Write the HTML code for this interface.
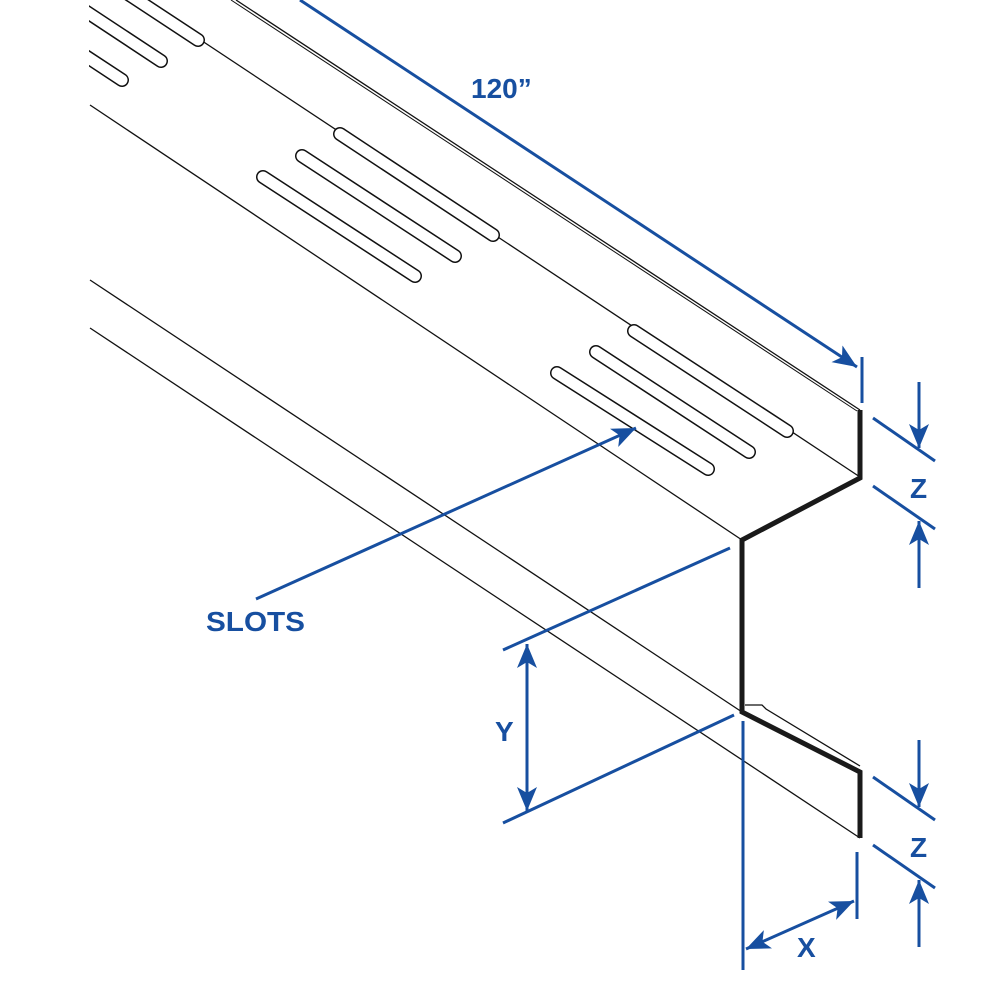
<!DOCTYPE html>
<html><head><meta charset="utf-8"><style>html,body{margin:0;padding:0;background:#fff}svg{display:block}</style></head>
<body>
<svg width="1000" height="1000" viewBox="0 0 1000 1000" xmlns="http://www.w3.org/2000/svg">
<defs>
<clipPath id="c"><rect x="89" y="0" width="911" height="1000"/></clipPath>
<marker id="a" viewBox="0 0 24 20" refX="24" refY="10" markerWidth="24" markerHeight="20" markerUnits="userSpaceOnUse" orient="auto-start-reverse"><path d="M0,0 L24,10 L0,20 L6,10 Z" fill="#174fa0"/></marker>
</defs>
<g clip-path="url(#c)" fill="none" stroke="#111" stroke-width="1.3">
<line x1="236" y1="0" x2="860" y2="410"/>
<line x1="231" y1="0" x2="857" y2="411" stroke-width="1"/>
<line x1="0" y1="-93" x2="860" y2="477"/>
<line x1="90" y1="105" x2="742" y2="540"/>
<line x1="90" y1="280" x2="742" y2="712"/>
<line x1="90" y1="328" x2="860" y2="838"/>
<path d="M745,705 L762,705 L766,709 L860,766"/>
</g>
<g clip-path="url(#c)" stroke-linecap="round">
<g stroke="#111" stroke-width="14">
<line x1="43" y1="-62" x2="198" y2="40"/>
<line x1="8" y1="-40" x2="161" y2="61"/>
<line x1="-30" y1="-20" x2="122" y2="80"/>
<line x1="340" y1="134" x2="493" y2="235"/>
<line x1="302" y1="156" x2="455" y2="256"/>
<line x1="263" y1="177" x2="415" y2="276"/>
<line x1="634" y1="331" x2="787" y2="431"/>
<line x1="596" y1="352" x2="749" y2="452"/>
<line x1="557" y1="373" x2="708" y2="469"/>
</g>
<g stroke="#fff" stroke-width="11">
<line x1="43" y1="-62" x2="198" y2="40"/>
<line x1="8" y1="-40" x2="161" y2="61"/>
<line x1="-30" y1="-20" x2="122" y2="80"/>
<line x1="340" y1="134" x2="493" y2="235"/>
<line x1="302" y1="156" x2="455" y2="256"/>
<line x1="263" y1="177" x2="415" y2="276"/>
<line x1="634" y1="331" x2="787" y2="431"/>
<line x1="596" y1="352" x2="749" y2="452"/>
<line x1="557" y1="373" x2="708" y2="469"/>
</g>
</g>
<path d="M860,410 L860,478 L742,540 L742,712 L860,772 L860,838" fill="none" stroke="#1a1a1a" stroke-width="5" stroke-linejoin="miter"/>
<g stroke="#174fa0" stroke-width="3" fill="none">
<line x1="300" y1="0" x2="857" y2="367" marker-end="url(#a)"/>
<line x1="862" y1="357" x2="862" y2="403"/>
<line x1="873" y1="418" x2="935" y2="461"/>
<line x1="873" y1="486" x2="935" y2="529"/>
<line x1="919" y1="382" x2="919" y2="448" marker-end="url(#a)"/>
<line x1="919" y1="588" x2="919" y2="521" marker-end="url(#a)"/>
<line x1="873" y1="777" x2="935" y2="820"/>
<line x1="873" y1="845" x2="935" y2="888"/>
<line x1="919" y1="740" x2="919" y2="807" marker-end="url(#a)"/>
<line x1="919" y1="947" x2="919" y2="880" marker-end="url(#a)"/>
<line x1="743" y1="721" x2="743" y2="970"/>
<line x1="857" y1="852" x2="857" y2="919"/>
<line x1="746" y1="949" x2="854" y2="901" marker-start="url(#a)" marker-end="url(#a)"/>
<line x1="503" y1="650" x2="730" y2="548"/>
<line x1="503" y1="823" x2="734" y2="715"/>
<line x1="527" y1="644" x2="527" y2="811" marker-start="url(#a)" marker-end="url(#a)"/>
<line x1="256" y1="599" x2="636" y2="428" marker-end="url(#a)"/>
</g>
<g fill="#174fa0" font-family="Liberation Sans, sans-serif" font-weight="bold" font-size="28">
<text x="471" y="98">120”</text>
<text x="910" y="498">Z</text>
<text x="910" y="857">Z</text>
<text x="797" y="957">X</text>
<text x="495" y="741">Y</text>
<text x="206" y="631" textLength="99" lengthAdjust="spacingAndGlyphs">SLOTS</text>
</g>
</svg>
</body></html>
